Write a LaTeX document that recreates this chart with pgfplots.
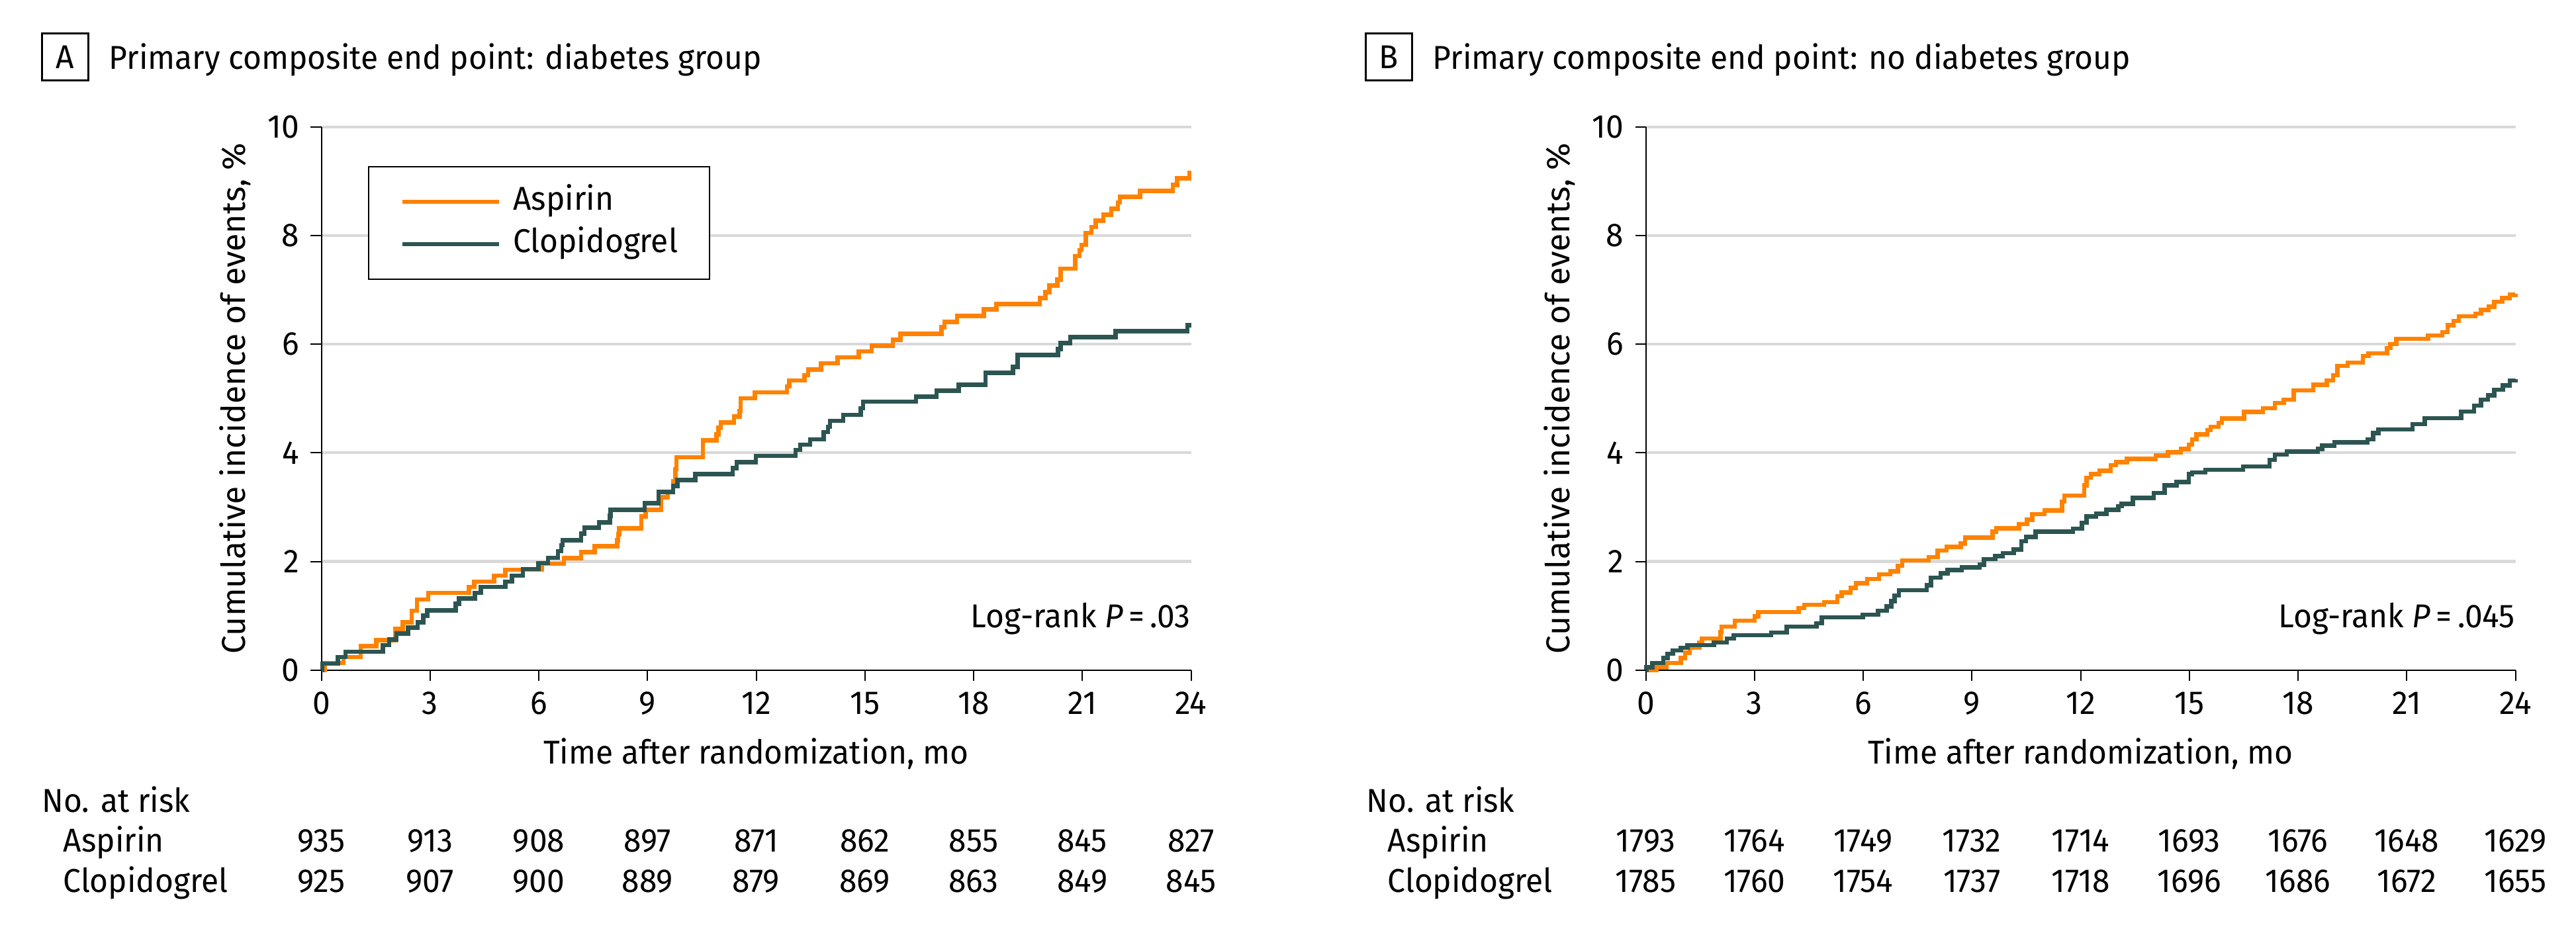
\documentclass[border=0pt]{standalone}
\usepackage{fontspec}
\setmainfont{Fira Sans}[FakeStretch=0.96]
\newfontfamily\ylfont{Fira Sans}
\usepackage{pgfplots}
\pgfplotsset{compat=1.18}
\definecolor{asp}{HTML}{FF8200}
\definecolor{clo}{HTML}{2C5552}
\definecolor{gridgray}{HTML}{D9D9D9}
\newcommand{\risk}[3]{\node[anchor=base] at (axis cs:#1,#2) {#3};}
\pgfplotsset{kmaxis/.style={
  width=131.4mm, height=82.1mm, scale only axis,
  xmin=0, xmax=24, ymin=0, ymax=10,
  axis lines=left, axis line style={-, line width=0.2mm},
  tick align=outside, major tick length=1.6mm, tick style={line width=0.2mm, black},
  xtick={0,3,...,24}, ytick={2,4,...,10}, extra y ticks={0}, extra y tick style={grid=none},
  ymajorgrids, grid style={line width=0.43mm, gridgray},
  /pgf/number format/assume math mode=true,
  clip=false,
  xlabel={Time after randomization, mo},
  ylabel={\ylfont Cumulative incidence of events, \%},
  xlabel style={at={(axis description cs:0.5,-0.1733)}, anchor=base},
  ylabel style={at={(axis description cs:-0.0875,0.5)}, anchor=base},
  every axis plot/.append style={const plot, line width=0.65mm},
}}
\begin{document}
\fontsize{14.2pt}{17pt}\selectfont
\begin{tikzpicture}
\path[use as bounding box] (0,0) rectangle (389.2mm,140mm);
% Panel titles
\node[draw, line width=0.3mm, minimum width=7mm, minimum height=7.1mm, inner sep=0pt, text height=3.5mm, text depth=0pt] at (9.8mm,131.35mm) {A};
\node[anchor=base west, inner sep=0pt] at (16.4mm,129.5mm) {Primary composite end point: diabetes group};
\node[draw, line width=0.3mm, minimum width=7mm, minimum height=7.1mm, inner sep=0pt, text height=3.5mm, text depth=0pt] at (209.85mm,131.35mm) {B};
\node[anchor=base west, inner sep=0pt] at (216.4mm,129.5mm) {Primary composite end point: no diabetes group};

\begin{axis}[kmaxis, at={(48.55mm,38.73mm)}, anchor=south west,
  legend style={at={(axis description cs:0.0533,0.928)}, anchor=north west, draw=black, line width=0.25mm,
    inner xsep=4.8mm, inner ysep=3mm, row sep=1.8mm, column sep=1.8mm,
    nodes={inner sep=0pt, text height=3.5mm, text depth=1.1mm}, cells={anchor=west}},
  legend cell align=left,
  legend image code/.code={\draw[#1] (0mm,0mm) -- (14.6mm,0mm);},
]
\addplot[asp] coordinates {(0,0) (0.09,0.13) (0.61,0.24) (1.09,0.44) (1.52,0.55) (2.05,0.76) (2.25,0.88) (2.49,1.09) (2.64,1.30) (2.95,1.42) (4.07,1.53) (4.22,1.63) (4.77,1.74) (5.08,1.85) (6.08,1.96) (6.69,2.06) (7.17,2.17) (7.54,2.28) (8.16,2.39) (8.19,2.50) (8.22,2.61) (8.83,2.83) (8.95,2.95) (9.38,3.18) (9.56,3.28) (9.71,3.48) (9.77,3.70) (9.80,3.92) (10.53,4.23) (10.90,4.34) (10.96,4.46) (11.02,4.56) (11.39,4.67) (11.54,4.77) (11.57,5.00) (11.96,5.11) (12.85,5.22) (12.91,5.33) (13.33,5.43) (13.43,5.53) (13.79,5.65) (14.25,5.76) (14.83,5.87) (15.19,5.97) (15.77,6.08) (15.98,6.19) (17.11,6.31) (17.20,6.41) (17.54,6.52) (18.28,6.64) (18.63,6.74) (19.83,6.85) (19.98,6.96) (20.09,7.08) (20.31,7.19) (20.40,7.39) (20.80,7.62) (20.92,7.73) (20.98,7.83) (21.10,8.05) (21.25,8.16) (21.37,8.27) (21.58,8.38) (21.80,8.49) (21.98,8.61) (22.04,8.71) (22.59,8.82) (23.50,8.93) (23.62,9.05) (23.95,9.15) (24,9.15)};
\addlegendentry{Aspirin}
\addplot[clo] coordinates {(0,0) (0.03,0.12) (0.46,0.24) (0.67,0.34) (1.70,0.46) (1.87,0.56) (2.07,0.67) (2.39,0.78) (2.66,0.88) (2.81,1.00) (2.92,1.10) (3.71,1.22) (3.80,1.32) (4.24,1.42) (4.40,1.53) (5.08,1.63) (5.26,1.74) (5.56,1.86) (5.99,1.97) (6.26,2.07) (6.53,2.19) (6.62,2.30) (6.66,2.39) (7.17,2.51) (7.26,2.62) (7.66,2.72) (7.96,2.84) (7.98,2.95) (8.92,3.07) (9.31,3.28) (9.71,3.39) (9.83,3.50) (10.32,3.61) (11.35,3.72) (11.46,3.83) (11.99,3.94) (13.09,4.05) (13.21,4.15) (13.49,4.25) (13.86,4.38) (13.98,4.48) (14.04,4.59) (14.40,4.70) (14.89,4.82) (14.95,4.94) (16.41,5.03) (16.98,5.14) (17.59,5.25) (18.33,5.47) (19.09,5.58) (19.21,5.80) (20.33,5.91) (20.40,6.02) (20.67,6.13) (21.92,6.24) (23.90,6.35) (24,6.35)};
\addlegendentry{Clopidogrel}
\node[anchor=base east, inner sep=0pt] at (axis cs:24,0.788) {Log-rank \textit{P}\,=\,.03};
\node[anchor=base west, inner sep=0pt] at (axis cs:-7.717,-2.622) {No. at risk};
\node[anchor=base west, inner sep=0pt] at (axis cs:-7.132,-3.341) {Aspirin};
\node[anchor=base west, inner sep=0pt] at (axis cs:-7.132,-4.084) {Clopidogrel};
\risk{0}{-3.341}{935}\risk{3}{-3.341}{913}\risk{6}{-3.341}{908}\risk{9}{-3.341}{897}\risk{12}{-3.341}{871}\risk{15}{-3.341}{862}\risk{18}{-3.341}{855}\risk{21}{-3.341}{845}\risk{24}{-3.341}{827}
\risk{0}{-4.084}{925}\risk{3}{-4.084}{907}\risk{6}{-4.084}{900}\risk{9}{-4.084}{889}\risk{12}{-4.084}{879}\risk{15}{-4.084}{869}\risk{18}{-4.084}{863}\risk{21}{-4.084}{849}\risk{24}{-4.084}{845}
\end{axis}

\begin{axis}[kmaxis, at={(248.65mm,38.73mm)}, anchor=south west]
\addplot[asp] coordinates {(0,0) (0.30,0.05) (0.57,0.13) (0.97,0.22) (1.09,0.32) (1.21,0.41) (1.48,0.51) (1.55,0.58) (2.06,0.70) (2.09,0.80) (2.46,0.91) (3.00,0.99) (3.10,1.07) (4.22,1.14) (4.37,1.20) (4.92,1.25) (5.29,1.36) (5.41,1.43) (5.65,1.51) (5.80,1.60) (6.11,1.68) (6.44,1.76) (6.75,1.82) (6.96,1.92) (7.08,2.02) (7.81,2.08) (8.05,2.20) (8.30,2.27) (8.69,2.33) (8.81,2.44) (9.57,2.55) (9.67,2.61) (10.30,2.69) (10.52,2.77) (10.67,2.87) (11.00,2.94) (11.49,3.10) (11.55,3.21) (12.10,3.40) (12.16,3.54) (12.28,3.61) (12.52,3.67) (12.83,3.77) (12.98,3.83) (13.28,3.89) (14.07,3.95) (14.41,4.01) (14.77,4.07) (14.99,4.15) (15.08,4.25) (15.20,4.34) (15.50,4.42) (15.59,4.48) (15.81,4.55) (15.90,4.63) (16.51,4.75) (17.03,4.82) (17.36,4.92) (17.61,4.98) (17.88,5.15) (18.42,5.25) (18.79,5.33) (18.97,5.43) (19.09,5.60) (19.37,5.66) (19.79,5.78) (19.94,5.83) (20.46,5.93) (20.55,6.00) (20.71,6.10) (21.59,6.16) (21.98,6.22) (22.13,6.35) (22.29,6.43) (22.44,6.51) (22.89,6.56) (23.05,6.63) (23.26,6.69) (23.41,6.78) (23.63,6.85) (23.84,6.91) (24,6.93)};
\addplot[clo] coordinates {(0,0) (0.02,0.05) (0.18,0.13) (0.48,0.22) (0.60,0.30) (0.75,0.36) (0.97,0.41) (1.15,0.46) (1.88,0.51) (2.24,0.58) (2.43,0.64) (3.46,0.69) (3.89,0.80) (4.71,0.86) (4.86,0.97) (5.99,1.02) (6.41,1.09) (6.65,1.17) (6.78,1.27) (6.87,1.37) (6.99,1.47) (7.75,1.56) (7.87,1.70) (8.14,1.78) (8.33,1.84) (8.72,1.89) (9.21,1.94) (9.33,2.04) (9.64,2.10) (9.85,2.15) (10.15,2.22) (10.36,2.37) (10.49,2.45) (10.76,2.55) (11.79,2.60) (12.04,2.71) (12.16,2.83) (12.43,2.88) (12.71,2.95) (13.04,3.02) (13.13,3.06) (13.44,3.17) (14.02,3.26) (14.32,3.40) (14.65,3.46) (14.99,3.61) (15.08,3.64) (15.44,3.69) (16.48,3.75) (17.21,3.87) (17.36,3.97) (17.69,4.02) (18.55,4.07) (18.67,4.13) (19.00,4.19) (19.92,4.25) (20.07,4.36) (20.22,4.43) (21.16,4.53) (21.50,4.64) (22.50,4.76) (22.86,4.87) (23.05,4.98) (23.24,5.06) (23.41,5.16) (23.65,5.24) (23.84,5.33) (24,5.35)};
\node[anchor=base east, inner sep=0pt] at (axis cs:24,0.788) {Log-rank \textit{P}\,=\,.045};
\node[anchor=base west, inner sep=0pt] at (axis cs:-7.714,-2.622) {No. at risk};
\node[anchor=base west, inner sep=0pt] at (axis cs:-7.13,-3.341) {Aspirin};
\node[anchor=base west, inner sep=0pt] at (axis cs:-7.13,-4.084) {Clopidogrel};
\risk{0}{-3.341}{1793}\risk{3}{-3.341}{1764}\risk{6}{-3.341}{1749}\risk{9}{-3.341}{1732}\risk{12}{-3.341}{1714}\risk{15}{-3.341}{1693}\risk{18}{-3.341}{1676}\risk{21}{-3.341}{1648}\risk{24}{-3.341}{1629}
\risk{0}{-4.084}{1785}\risk{3}{-4.084}{1760}\risk{6}{-4.084}{1754}\risk{9}{-4.084}{1737}\risk{12}{-4.084}{1718}\risk{15}{-4.084}{1696}\risk{18}{-4.084}{1686}\risk{21}{-4.084}{1672}\risk{24}{-4.084}{1655}
\end{axis}
\end{tikzpicture}
\end{document}
